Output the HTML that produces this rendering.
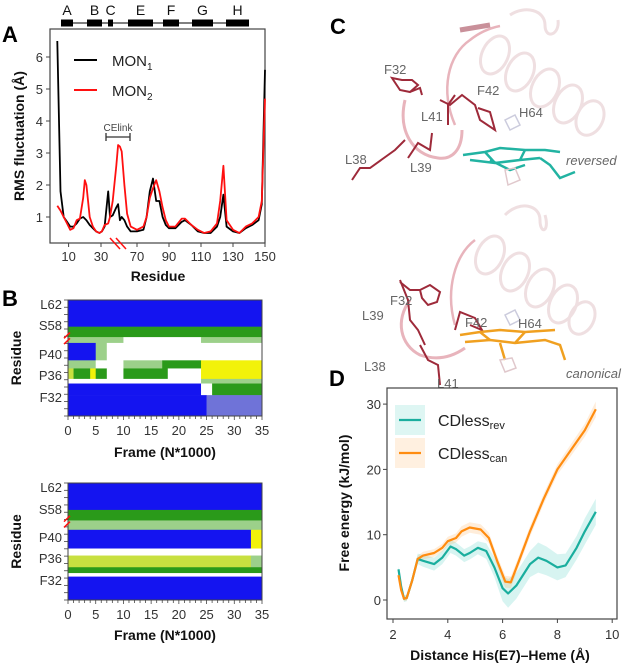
<!DOCTYPE html>
<html><head><meta charset="utf-8">
<style>
html,body{margin:0;padding:0;background:#fff;}
svg{display:block;font-family:"Liberation Sans",Arial,sans-serif;}
.tk{font-size:13px;fill:#333;}
.ttl{font-size:14px;font-weight:bold;fill:#111;}
.pl{font-size:22px;font-weight:bold;fill:#000;}
.lab{font-size:13px;fill:#666;}
</style></head>
<body>
<svg id="fig" width="627" height="665" viewBox="0 0 627 665">
<g id="panelA"></g>
<g id="panelB"></g>
<g id="panelC">
  <text class="pl" x="330" y="34">C</text>
  <g fill="none" stroke="#efdfe1" stroke-width="3">
    <ellipse cx="495" cy="55" rx="13" ry="20" transform="rotate(25 495 55)"/>
    <ellipse cx="520" cy="72" rx="13" ry="20" transform="rotate(25 520 72)"/>
    <ellipse cx="545" cy="88" rx="13" ry="20" transform="rotate(25 545 88)"/>
    <ellipse cx="568" cy="104" rx="13" ry="20" transform="rotate(25 568 104)"/>
    <ellipse cx="590" cy="118" rx="13" ry="18" transform="rotate(25 590 118)"/>
    <path d="M510,15 C525,5 545,10 545,25 C545,40 560,35 558,20"/>
  </g>
  <path d="M455,125 C440,90 448,55 470,40 C480,32 490,28 500,26" stroke="#e8b4bc" stroke-width="2.5" fill="none"/>
  <path d="M405,100 C398,130 412,155 438,158 C452,160 462,150 462,130" stroke="#e8b4bc" stroke-width="3" fill="none"/>
  <path d="M460,30 L490,25" stroke="#c9909a" stroke-width="5" fill="none"/>
  <g fill="none" stroke="#9e2a3a" stroke-width="2">
    <path d="M392,78 L400,90 L410,92 L418,85 L412,80 L402,80 Z M410,92 L420,88 L422,95"/>
    <path d="M440,100 L450,105 L462,95 L475,105 L480,120 L495,130 L490,112 L478,108"/>
    <path d="M352,180 L360,168 L370,168 L395,150 L405,140"/>
    <path d="M408,158 L418,143 L430,150 L432,133"/>
    <path d="M448,125 L448,105 L455,95"/>
  </g>
  <path d="M505,120 L515,115 L520,125 L510,130 Z" stroke="#ccccdd" fill="none" stroke-width="1.5"/>
  <g fill="none" stroke="#22b3a2" stroke-width="2.5">
    <path d="M463,155 L485,152 L500,148 L525,150 L545,150 L560,152"/>
    <path d="M470,160 L495,163 L520,160 L540,158"/>
    <path d="M485,152 L495,163 M525,150 L520,160 M540,158 L550,165 L560,178 L575,172"/>
    <path d="M490,160 L510,170 L525,165" />
  </g>
  <path d="M505,170 L515,168 L520,180 L508,185 Z" stroke="#e0c8cc" fill="none" stroke-width="1.5"/>
  <text class="lab" x="384" y="74">F32</text>
  <text class="lab" x="421" y="121">L41</text>
  <text class="lab" x="477" y="95">F42</text>
  <text class="lab" x="519" y="117">H64</text>
  <text class="lab" x="345" y="164">L38</text>
  <text class="lab" x="410" y="172">L39</text>
  <text class="lab" x="566" y="165" font-style="italic" font-size="12">reversed</text>
  <g fill="none" stroke="#efdfe1" stroke-width="3">
    <ellipse cx="490" cy="255" rx="13" ry="20" transform="rotate(25 490 255)"/>
    <ellipse cx="515" cy="272" rx="13" ry="20" transform="rotate(25 515 272)"/>
    <ellipse cx="540" cy="288" rx="13" ry="20" transform="rotate(25 540 288)"/>
    <ellipse cx="563" cy="304" rx="13" ry="20" transform="rotate(25 563 304)"/>
    <ellipse cx="582" cy="318" rx="12" ry="17" transform="rotate(25 582 318)"/>
    <path d="M505,215 C520,200 540,205 540,220 C540,235 550,232 545,215"/>
  </g>
  <path d="M455,325 C445,290 455,255 475,240" stroke="#e8b4bc" stroke-width="2.5" fill="none"/>
  <path d="M410,300 C395,320 400,345 420,355 C440,362 455,355 465,348" stroke="#e8b4bc" stroke-width="3" fill="none"/>
  <g fill="none" stroke="#9e2a3a" stroke-width="2">
    <path d="M420,290 L430,285 L440,292 L437,302 L428,305 L422,298 Z M400,282 L410,290 L420,290"/>
    <path d="M400,280 L408,300 L410,320 L418,330 L425,345"/>
    <path d="M455,330 L460,312 L475,318 L482,330 L470,325"/>
    <path d="M420,345 L428,360 L438,365 L440,385"/>
  </g>
  <path d="M505,315 L515,310 L520,320 L510,325 Z" stroke="#ccccdd" fill="none" stroke-width="1.5"/>
  <g fill="none" stroke="#f0a020" stroke-width="2.5">
    <path d="M460,335 L480,332 L500,330 L525,332 L555,330"/>
    <path d="M465,342 L490,340 L515,343 L545,340 L560,345 L565,360"/>
    <path d="M480,332 L490,340 M525,332 L515,343 M500,343 L505,360"/>
  </g>
  <path d="M500,360 L512,358 L516,368 L505,372 Z" stroke="#e0c8cc" fill="none" stroke-width="1.5"/>
  <text class="lab" x="390" y="305">F32</text>
  <text class="lab" x="362" y="320">L39</text>
  <text class="lab" x="465" y="327">F42</text>
  <text class="lab" x="518" y="328">H64</text>
  <text class="lab" x="364" y="371">L38</text>
  <text class="lab" x="437" y="388">L41</text>
  <text class="lab" x="566" y="378" font-style="italic" font-size="12">canonical</text>
</g>
<g id="panelD"></g>
</svg>
<script>
const NS='http://www.w3.org/2000/svg';
function mk(parent,tag,attrs,text){const e=document.createElementNS(NS,tag);for(const k in attrs)e.setAttribute(k,attrs[k]);if(text!==undefined)e.textContent=text;parent.appendChild(e);return e;}

const residues=[3,5,7,9,11,13,15,17,19,20,21,23,25,27,29,31,34,38,40,43,47,49,51,53,56,59,63,70,74,76,78,80,82,84,86,88,90,94,98,100,104,108,112,116,120,122,124,126,130,134,138,142,146,148,150];
const mon1=[6.5,1.8,1.0,0.85,0.7,0.7,0.8,0.95,1.0,0.95,0.9,0.75,0.65,0.55,0.5,0.55,0.7,1.8,1.0,1.05,1.3,1.4,0.9,1.0,0.9,0.7,0.55,0.55,0.6,1.0,1.8,2.2,1.5,1.5,1.0,0.75,0.65,0.65,0.85,0.9,0.75,0.55,0.5,0.5,0.7,1.0,1.7,0.7,0.55,0.5,0.65,0.75,0.9,1.4,5.6];
const mon2=[1.35,1.2,1.0,0.8,0.6,0.65,0.9,0.95,1.6,2.15,2.0,1.0,0.7,0.55,0.5,0.55,0.75,0.8,1.0,1.5,2.6,3.25,3.2,3.05,2.0,1.1,0.7,0.6,0.7,1.0,1.6,1.9,2.15,1.8,1.3,0.9,0.7,0.7,0.95,0.95,0.75,0.6,0.5,0.55,0.8,1.5,2.6,0.9,0.6,0.5,0.7,0.8,1.0,1.5,4.7];
const aXTicks=[10,30,70,90,110,130,150];
const aYTicks=[1,2,3,4,5,6];
const helixNames=['A','B','C','E','F','G','H'];

function axA(r){ if(r<=30) return 101+(r-30)*1.62; if(r>=70) return 137+(r-70)*1.6; return 101+(r-30)*0.9; }
function ayA(v){ return 249-v*32; }
(function(){
 const g=document.getElementById('panelA');
 mk(g,'text',{class:'pl',x:2,y:42,},'A');
 const hb=mk(g,'g',{});
 mk(hb,'line',{x1:61,y1:23,x2:249,y2:23,stroke:'#000','stroke-width':1});
 const hx=[[61,73],[87,102],[108,113],[128,153],[163,179],[192,213],[226,249]];
 helixNames.forEach((n,i)=>{
   const r=mk(hb,'rect',{x:hx[i][0],y:19.5,width:hx[i][1]-hx[i][0],height:7,fill:'#000'});
   
   
   const t=mk(hb,'text',{x:(hx[i][0]+hx[i][1])/2,y:15,'text-anchor':'middle','font-size':14,fill:'#111'},n);
   
   
 });
 mk(g,'rect',{x:50,y:29,width:215,height:214,fill:'none',stroke:'#444','stroke-width':1.2,});
 aYTicks.forEach(v=>{const y=ayA(v);mk(g,'line',{x1:46,y1:y,x2:50,y2:y,stroke:'#444'});
   const t=mk(g,'text',{class:'tk',x:43,y:y+5,'text-anchor':'end'},v);});
 aXTicks.forEach(v=>{const x=axA(v);mk(g,'line',{x1:x,y1:243,x2:x,y2:247,stroke:'#444'});
   const t=mk(g,'text',{class:'tk',x:x,y:261,'text-anchor':'middle'},v);});
 mk(g,'text',{class:'ttl',x:158,y:281,'text-anchor':'middle',},'Residue');
 mk(g,'text',{class:'ttl',x:0,y:0,'text-anchor':'middle',transform:'translate(24,136) rotate(-90)','font-size':13,},'RMS fluctuation (Å)');
 function line(vals,col,name){const p=residues.map((r,i)=>axA(r).toFixed(1)+','+ayA(vals[i]).toFixed(1)).join(' ');
   const e=mk(g,'polyline',{points:p,fill:'none',stroke:col,'stroke-width':1.8,'stroke-linejoin':'round'});
   }
 line(mon1,'#000','series-mon1');
 line(mon2,'#ff1010','series-mon2');
 mk(g,'path',{d:'M110,238 L120,249 M116,238 L126,249',stroke:'#ff1010','stroke-width':1.5,fill:'none',});
 mk(g,'path',{d:'M106,133 L106,141 M106,137 L130,137 M130,133 L130,141',stroke:'#333','stroke-width':1.3,fill:'none',});
 mk(g,'text',{x:118,y:131,'text-anchor':'middle','font-size':10,fill:'#444',},'CElink');
 const lg=mk(g,'g',{});
 mk(lg,'line',{x1:74,y1:60,x2:97,y2:60,stroke:'#000','stroke-width':2});
 mk(lg,'line',{x1:74,y1:90,x2:97,y2:90,stroke:'#ff1010','stroke-width':2});
 const t1=mk(lg,'text',{x:112,y:66,'font-size':15,fill:'#222'});t1.innerHTML='MON<tspan font-size="10" dy="4">1</tspan>';
 
 const t2=mk(lg,'text',{x:112,y:96,'font-size':15,fill:'#222'});t2.innerHTML='MON<tspan font-size="10" dy="4">2</tspan>';
 
})();

const bXTicks=[0,5,10,15,20,25,30,35];
const bYLabels=['L62','S58','P40','P36','F32'];
const colorCodes={b:'#1414f0',w:'#ffffff',g:'#2a9a1a',lg:'#9cd08a',y:'#f2f20a',gy:'#6f73d8',yg:'#c8e040'};
const heat1Top=[0,0.23,0.32,0.37,0.52,0.59,0.68,0.72,0.82];
const heat1Bot=[0.23,0.32,0.37,0.52,0.59,0.68,0.72,0.82,1.0];
const heat1Seg=[
 [[0,35,'b']],
 [[0,35,'g']],
 [[0,10,'lg'],[10,24,'w'],[24,35,'lg']],
 [[0,5,'b'],[5,7,'lg'],[7,18,'w'],[18,24,'w'],[24,35,'w']],
 [[0,5,'lg'],[5,10,'w'],[10,17,'lg'],[17,24,'g'],[24,35,'y']],
 [[0,1,'yg'],[1,4,'g'],[4,5,'y'],[5,7,'g'],[7,10,'w'],[10,18,'g'],[18,24,'w'],[24,35,'y']],
 [[0,24,'w'],[24,35,'lg']],
 [[0,24,'b'],[24,26,'w'],[26,35,'g']],
 [[0,25,'b'],[25,35,'gy']]
];
const heat2Top=[0,0.23,0.32,0.40,0.56,0.62,0.72,0.77,0.80];
const heat2Bot=[0.23,0.32,0.40,0.56,0.62,0.72,0.77,0.80,1.0];
const heat2Seg=[
 [[0,35,'b']],
 [[0,35,'g']],
 [[0,35,'lg']],
 [[0,33,'b'],[33,35,'y']],
 [[0,33,'w'],[33,35,'w']],
 [[0,33,'yg'],[33,35,'lg']],
 [[0,35,'g']],
 [[0,35,'w']],
 [[0,35,'b']]
];
function drawHeat(g,x0,y0,w,h,tops,bots,segs,nm){
 const fx=f=>x0+f/35*w;
 segs.forEach((row,i)=>{row.forEach(s=>{
   const r=mk(g,'rect',{x:fx(s[0]),y:y0+tops[i]*h,width:fx(s[1])-fx(s[0])+0.3,height:(bots[i]-tops[i])*h+0.3,fill:colorCodes[s[2]]});
   
   
 });});
 mk(g,'rect',{x:x0,y:y0,width:w,height:h,fill:'none',stroke:'#444','stroke-width':1});
}
(function(){
 const g=document.getElementById('panelB');
 mk(g,'text',{class:'pl',x:2,y:306,},'B');
 const panels=[[300,116,heat1Top,heat1Bot,heat1Seg,[304,325,354,375,397],457,'heatmap-top'],[483,117,heat2Top,heat2Bot,heat2Seg,[487,509,537,558,580],640,'heatmap-bottom']];
 panels.forEach(p=>{
  const [y0,h,tp,bt,sg,ly,ty,nm]=p;
  const hg=mk(g,'g',{});
  drawHeat(hg,68,y0,194,h,tp,bt,sg,nm);
  for(let k=0;k<=16;k++){const y=y0+k*h/16;mk(hg,'line',{x1:64,y1:y,x2:68,y2:y,stroke:'#444','stroke-width':0.8});}
  for(let f=0;f<=35;f++){const x=68+f/35*194;mk(hg,'line',{x1:x,y1:y0+h,x2:x,y2:y0+h+(f%5?3:4),stroke:'#444','stroke-width':0.8});}
  bYLabels.forEach((l,i)=>{const t=mk(hg,'text',{class:'tk','font-size':14,x:62,y:ly[i]+5,'text-anchor':'end'},l);});
  bXTicks.forEach(v=>{const t=mk(hg,'text',{class:'tk','font-size':14,x:68+v/35*194,y:y0+h+19,'text-anchor':'middle'},v);});
  mk(hg,'path',{d:`M64,${y0+h*0.33} L70,${y0+h*0.28} M64,${y0+h*0.38} L70,${y0+h*0.33}`,stroke:'#ff1010','stroke-width':1.5});
  const xt=mk(hg,'text',{class:'ttl','font-size':15,x:165,y:ty,'text-anchor':'middle'},'Frame (N*1000)');
  const yt=mk(hg,'text',{class:'ttl','font-size':15,x:0,y:0,'text-anchor':'middle',transform:`translate(21,${y0+h/2}) rotate(-90)`},'Residue');
 });
})();

const revX=[2.2,2.3,2.4,2.5,2.7,2.9,3.1,3.5,3.8,4.1,4.3,4.6,4.8,5.1,5.4,5.7,6.0,6.2,6.5,7.0,7.3,7.6,8.0,8.3,8.7,9.0,9.4];
const revY=[4.7,2,0.2,0.3,3,6.3,6,5.5,6.5,8.2,7.8,6.8,7.2,8,7.5,5,1.8,1.0,2.2,5.5,6.5,6,5,5.3,8,10.5,13.5];
const revErr=[0.5,0.5,0.5,0.5,0.6,0.8,0.9,1,1,1,1,1,1,1,1.2,1.5,2,2.2,2,2,2.3,2.2,2,1.8,1.8,2,2];
const canX=[2.2,2.3,2.4,2.5,2.7,2.9,3.1,3.5,3.8,4.0,4.3,4.5,4.8,5.2,5.5,5.8,6.1,6.3,6.6,7.0,7.5,8.0,8.5,9.0,9.4];
const canY=[3.8,1.5,0.2,0.3,3,6.3,6.8,7.2,8,9,9.5,10.5,11.1,10.8,9.5,6,2.8,2.7,6,10.5,15.5,20,23,26,29.2];
const canErr=[0.4,0.4,0.4,0.4,0.5,0.5,0.6,0.6,0.6,0.7,0.7,0.8,0.8,0.8,0.8,0.8,0.9,0.9,0.8,0.8,0.8,0.8,0.9,1,1.2];
const dXTicks=[2,4,6,8,10];
const dYTicks=[0,10,20,30];
function axD(v){return 393+(v-2)*27.4;}
function ayD(v){return 600-v*6.53;}
(function(){
 const g=document.getElementById('panelD');
 mk(g,'text',{class:'pl',x:329,y:386,},'D');
 function band(xs,ys,es,col,nm){
   const up=xs.map((x,i)=>axD(x).toFixed(1)+','+ayD(ys[i]+es[i]).toFixed(1));
   const dn=xs.map((x,i)=>axD(x).toFixed(1)+','+ayD(ys[i]-es[i]).toFixed(1)).reverse();
   const e=mk(g,'polygon',{points:up.concat(dn).join(' '),fill:col,opacity:0.18});
   
 }
 function line(xs,ys,col,nm){
   const e=mk(g,'polyline',{points:xs.map((x,i)=>axD(x).toFixed(1)+','+ayD(ys[i]).toFixed(1)).join(' '),fill:'none',stroke:col,'stroke-width':2.2,'stroke-linejoin':'round'});
   
 }
 band(revX,revY,revErr,'#20c0b0','band-cdless-rev');
 band(canX,canY,canErr,'#ff9a30','band-cdless-can');
 line(revX,revY,'#1aae9e','series-cdless-rev');
 line(canX,canY,'#ff8c10','series-cdless-can');
 mk(g,'rect',{x:387,y:388,width:230,height:231,fill:'none',stroke:'#444','stroke-width':1.2,});
 dYTicks.forEach(v=>{const y=ayD(v);mk(g,'line',{x1:383,y1:y,x2:387,y2:y,stroke:'#444'});
   const t=mk(g,'text',{class:'tk','font-size':15,x:381,y:y+5,'text-anchor':'end'},v);});
 dXTicks.forEach(v=>{const x=axD(v);mk(g,'line',{x1:x,y1:619,x2:x,y2:623,stroke:'#444'});
   const t=mk(g,'text',{class:'tk','font-size':15,x:x,y:639,'text-anchor':'middle'},v);});
 mk(g,'text',{class:'ttl','font-size':15,x:500,y:660,'text-anchor':'middle',},'Distance His(E7)–Heme (Å)');
 mk(g,'text',{class:'ttl','font-size':15,x:0,y:0,'text-anchor':'middle',transform:'translate(349,503) rotate(-90)',},'Free energy (kJ/mol)');
 const lg=mk(g,'g',{});
 mk(lg,'rect',{x:395,y:405,width:30,height:30,fill:'#20c0b0',opacity:0.15});
 mk(lg,'rect',{x:395,y:438,width:30,height:30,fill:'#ff9a30',opacity:0.15});
 mk(lg,'line',{x1:399,y1:420,x2:421,y2:420,stroke:'#1aae9e','stroke-width':2.2});
 mk(lg,'line',{x1:399,y1:453,x2:421,y2:453,stroke:'#ff8c10','stroke-width':2.2});
 const a=mk(lg,'text',{x:438,y:426,'font-size':16,fill:'#222'});a.innerHTML='CDless<tspan font-size="11" dy="3">rev</tspan>';
 
 const b=mk(lg,'text',{x:438,y:459,'font-size':16,fill:'#222'});b.innerHTML='CDless<tspan font-size="11" dy="3">can</tspan>';
 
})();
</script>
</body></html>
